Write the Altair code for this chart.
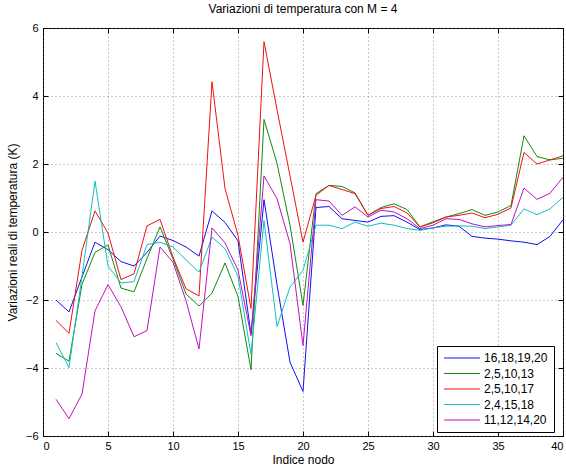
import altair as alt
import pandas as pd

nodes = list(range(1, 41))

series_names = ["16,18,19,20", "2,5,10,13", "2,5,10,17", "2,4,15,18", "11,12,14,20"]
series_colors = ["#1010f0", "#108a10", "#f01010", "#10c0c0", "#c010c0"]

s_16_18_19_20 = [-2.0, -2.35, -1.32, -0.3, -0.52, -0.87, -1.0, -0.6, -0.12, -0.25,
                 -0.44, -0.71, 0.62, 0.28, -0.26, -3.0, 0.95, -1.55, -3.83, -4.69,
                 0.72, 0.75, 0.39, 0.34, 0.29, 0.46, 0.48, 0.29, 0.07, 0.12,
                 0.21, 0.17, -0.13, -0.18, -0.21, -0.26, -0.3, -0.37, -0.13, 0.36]
s_2_5_10_13 = [-3.57, -3.8, -1.54, -0.6, -0.38, -1.65, -1.76, -0.78, 0.15, -0.79,
               -1.82, -2.18, -1.8, -0.91, -1.9, -4.05, 3.31, 2.02, 0.2, -2.16,
               1.13, 1.37, 1.34, 1.15, 0.49, 0.72, 0.83, 0.66, 0.15, 0.3,
               0.44, 0.54, 0.66, 0.49, 0.59, 0.78, 2.83, 2.22, 2.12, 2.17]
s_2_5_10_17 = [-2.6, -2.98, -0.54, 0.62, -0.03, -1.4, -1.23, 0.18, 0.37, -0.74,
               -1.67, -1.88, 4.42, 1.28, -0.1, -2.25, 5.6, 3.6, 1.65, -0.3,
               1.08, 1.37, 1.25, 1.13, 0.49, 0.69, 0.75, 0.56, 0.15, 0.27,
               0.44, 0.49, 0.56, 0.42, 0.52, 0.71, 2.34, 2.0, 2.12, 2.24]
s_2_4_15_18 = [-3.25, -3.99, -1.3, 1.5, -1.0, -1.5, -1.46, -0.37, -0.3, -0.44,
               -0.82, -1.18, -0.15, -0.49, -1.3, -3.6, 0.34, -2.78, -1.62, -1.13,
               0.2, 0.2, 0.1, 0.29, 0.17, 0.26, 0.2, 0.1, 0.05, 0.12,
               0.17, 0.18, 0.17, 0.1, 0.15, 0.2, 0.68, 0.51, 0.68, 1.02]
s_11_12_14_20 = [-4.92, -5.49, -4.77, -2.32, -1.55, -2.2, -3.08, -2.9, -0.44, -0.89,
                 -2.02, -3.44, 0.12, -0.32, -1.12, -3.05, 1.65, 0.98, -0.34, -3.34,
                 0.95, 0.91, 0.49, 0.74, 0.44, 0.64, 0.59, 0.39, 0.1, 0.2,
                 0.39, 0.37, 0.24, 0.15, 0.19, 0.22, 1.29, 0.96, 1.14, 1.61]

x_ticks = [0, 5, 10, 15, 20, 25, 30, 35, 40]
y_ticks = [-6, -4, -2, 0, 2, 4, 6]

all_series = [s_16_18_19_20, s_2_5_10_13, s_2_5_10_17, s_2_4_15_18, s_11_12_14_20]
rows = []
for name, vals in zip(series_names, all_series):
    for n, v in zip(nodes, vals):
        rows.append({"nodo": n, "valore": v, "serie": name})
df = pd.DataFrame(rows)

FONT = "Liberation Sans"

xscale = alt.Scale(domain=[0, 40], nice=False)
yscale = alt.Scale(domain=[-6, 6], nice=False)

lines = alt.Chart(df).mark_line(strokeWidth=1, clip=True).encode(
    x=alt.X("nodo:Q", scale=xscale,
            axis=alt.Axis(values=x_ticks, title="Indice nodo", grid=True,
                          gridDash=[1, 3], gridColor="#666666", gridOpacity=0.7,
                          domain=False, offset=-5, tickSize=5, tickColor="black",
                          labelPadding=4, labelFontSize=11, labelFont=FONT,
                          labelColor="black", titleFont=FONT, titleFontSize=12,
                          titleFontWeight="normal", titleColor="black",
                          titlePadding=3, format="d")),
    y=alt.Y("valore:Q", scale=yscale,
            axis=alt.Axis(values=y_ticks, title="Variazioni reali di temperatura (K)",
                          grid=True, gridDash=[1, 3], gridColor="#666666",
                          gridOpacity=0.7, domain=False, offset=-5, tickSize=5,
                          tickColor="black", labelPadding=5, labelFontSize=11,
                          labelFont=FONT, labelColor="black", titleFont=FONT,
                          titleFontSize=12, titleFontWeight="normal",
                          titleColor="black", titlePadding=6, format="d")),
    color=alt.Color("serie:N", sort=series_names,
                    scale=alt.Scale(domain=series_names, range=series_colors),
                    legend=alt.Legend(title=None, orient="none",
                                      legendX=394, legendY=318,
                                      symbolType="M-3.6,0H3.6",
                                      symbolSize=100, symbolStrokeWidth=1,
                                      symbolOffset=13,
                                      labelFont=FONT, labelFontSize=12,
                                      labelColor="black", strokeColor="black",
                                      fillColor="white", padding=6,
                                      rowPadding=3.5, cornerRadius=0,
                                      labelOffset=16)),
    detail="serie:N",
)

frame = alt.Chart(df).mark_point(opacity=0).encode(
    x=alt.X("nodo:Q", scale=xscale,
            axis=alt.Axis(values=x_ticks, orient="top", labels=False, title=None,
                          grid=False, domain=False, offset=-5, tickSize=5,
                          tickColor="black")),
    y=alt.Y("valore:Q", scale=yscale,
            axis=alt.Axis(values=y_ticks, orient="right", labels=False, title=None,
                          grid=False, domain=False, offset=-5, tickSize=5,
                          tickColor="black")),
)

chart = alt.layer(lines, frame).resolve_axis(x="independent", y="independent").properties(
    width=520, height=408,
    title=alt.TitleParams("Variazioni di temperatura con M = 4", font=FONT,
                          fontSize=12, fontWeight="normal", color="black",
                          offset=6, anchor="middle"),
    autosize=alt.AutoSizeParams(type="none"),
    padding={"left": 43, "top": 28, "right": 3, "bottom": 35},
    background="white",
).configure_view(stroke="black", strokeWidth=1)

chart.save("out.html", embed_options={"renderer": "svg", "actions": False})
